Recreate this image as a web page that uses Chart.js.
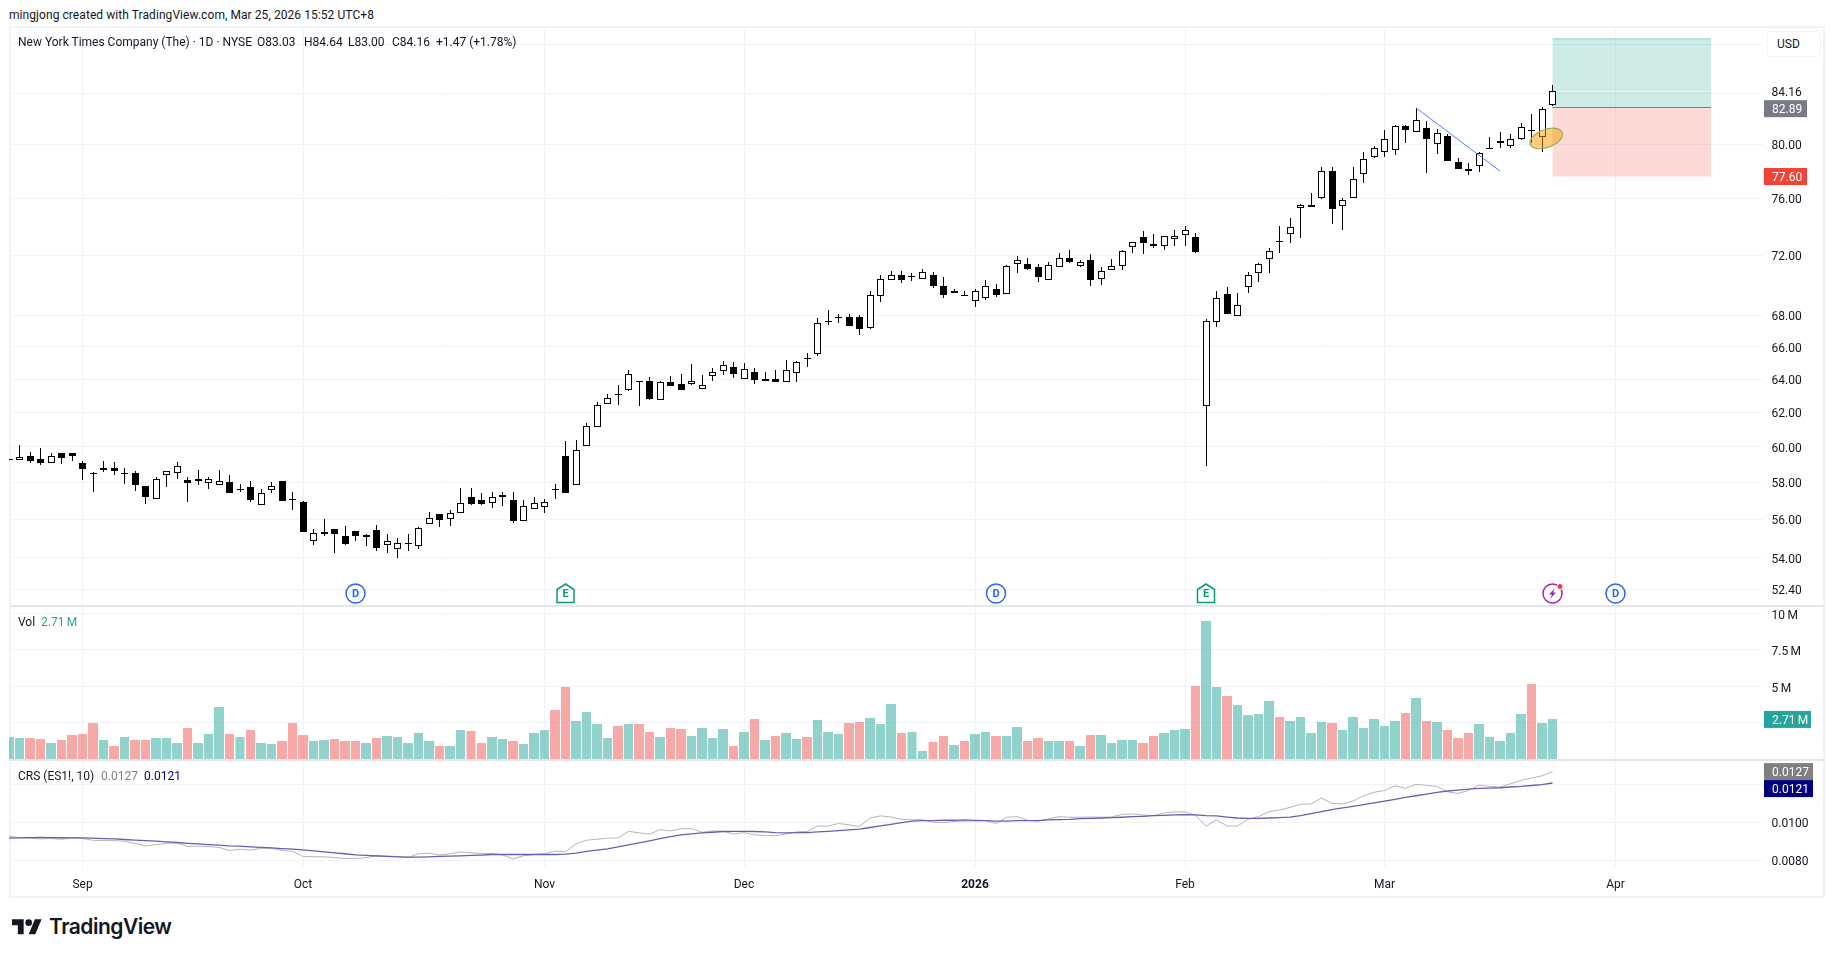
<!DOCTYPE html>
<html lang="en">
<head>
<meta charset="UTF-8" />
<title>NYT 1D</title>
<script src="https://cdn.jsdelivr.net/npm/chart.js"></script>
<style>
  html, body { margin: 0; background: #fff; }
  body { width: 1835px; height: 957px; position: relative; overflow: hidden; font-family: Roboto, sans-serif; font-size: 12px; color: #131722; }
  canvas { position: absolute; left: 9px; }
  .t { position: absolute; white-space: nowrap; line-height: 16px; }
  #frame { position: absolute; left: 9px; top: 26px; width: 1816px; height: 872px; box-sizing: border-box; border: 2px solid #f0f3fa; }
  .sep { position: absolute; left: 10px; width: 1814px; height: 2px; background: #e4e6ee; }
  #usd { position: absolute; left: 1767px; top: 31px; width: 54px; height: 26px; box-sizing: border-box; border: 1px solid #f0f3fa; border-radius: 4px; padding: 4px 0 0 9px; line-height: 16px; background: #fff; z-index: 3; }
  #logo { position: absolute; left: 12px; top: 916px; }
  #brand { position: absolute; left: 49px; top: 914px; font: 600 21px/26px Inter, sans-serif; letter-spacing: -0.5px; color: #131722; }
</style>
</head>
<body>
<div id="frame"></div>
<canvas id="priceChart" width="1816" height="579" style="top:27px"></canvas>
<canvas id="volChart" width="1816" height="153" style="top:606px"></canvas>
<canvas id="crsChart" width="1816" height="137" style="top:760px"></canvas>
<div class="sep" style="top:605px"></div>
<div class="sep" style="top:759px"></div>
<div id="usd">USD</div>

<div class="t" style="left:9px;top:7px;letter-spacing:0.07px">mingjong created with TradingView.com, Mar 25, 2026 15:52 UTC+8</div>
<div class="t" style="left:18px;top:34px">New York Times Company (The) · 1D · NYSE</div>
<div class="t" style="left:257px;top:34px">O83.03</div>
<div class="t" style="left:304px;top:34px">H84.64</div>
<div class="t" style="left:348px;top:34px">L83.00</div>
<div class="t" style="left:392px;top:34px">C84.16</div>
<div class="t" style="left:436px;top:34px">+1.47 (+1.78%)</div>
<div class="t" style="left:18px;top:614px">Vol</div>
<div class="t" style="left:41px;top:614px;color:#26a69a">2.71&thinsp;M</div>
<div class="t" style="left:18px;top:768px">CRS (ES1!, 10)</div>
<div class="t" style="left:101px;top:768px;color:#808080">0.0127</div>
<div class="t" style="left:144px;top:768px;color:#000080">0.0121</div>

<svg id="logo" width="30" height="23.3" viewBox="0 0 36 28" fill="#131722"><path d="M14 22H7V11H0V4h14v18zM28 22h-8l7.5-18h8L28 22z"/><circle cx="20" cy="8" r="4"/></svg>
<div id="brand">TradingView</div>

<script>
// session dates, the tail past the last bar is the empty space on the right of the chart
const tradingDays = [
  '2025-08-21','2025-08-22','2025-08-25','2025-08-26','2025-08-27','2025-08-28','2025-08-29',
  '2025-09-02','2025-09-03','2025-09-04','2025-09-05','2025-09-08','2025-09-09','2025-09-10','2025-09-11','2025-09-12',
  '2025-09-15','2025-09-16','2025-09-17','2025-09-18','2025-09-19','2025-09-22','2025-09-23','2025-09-24','2025-09-25','2025-09-26','2025-09-29','2025-09-30',
  '2025-10-01','2025-10-02','2025-10-03','2025-10-06','2025-10-07','2025-10-08','2025-10-09','2025-10-10','2025-10-13','2025-10-14','2025-10-15','2025-10-16','2025-10-17',
  '2025-10-20','2025-10-21','2025-10-22','2025-10-23','2025-10-24','2025-10-27','2025-10-28','2025-10-29','2025-10-30','2025-10-31',
  '2025-11-03','2025-11-04','2025-11-05','2025-11-06','2025-11-07','2025-11-10','2025-11-11','2025-11-12','2025-11-13','2025-11-14',
  '2025-11-17','2025-11-18','2025-11-19','2025-11-20','2025-11-21','2025-11-24','2025-11-25','2025-11-26','2025-11-28',
  '2025-12-01','2025-12-02','2025-12-03','2025-12-04','2025-12-05','2025-12-08','2025-12-09','2025-12-10','2025-12-11','2025-12-12',
  '2025-12-15','2025-12-16','2025-12-17','2025-12-18','2025-12-19','2025-12-22','2025-12-23','2025-12-24','2025-12-26','2025-12-29','2025-12-30','2025-12-31',
  '2026-01-02','2026-01-05','2026-01-06','2026-01-07','2026-01-08','2026-01-09','2026-01-12','2026-01-13','2026-01-14','2026-01-15','2026-01-16',
  '2026-01-20','2026-01-21','2026-01-22','2026-01-23','2026-01-26','2026-01-27','2026-01-28','2026-01-29','2026-01-30',
  '2026-02-02','2026-02-03','2026-02-04','2026-02-05','2026-02-06','2026-02-09','2026-02-10','2026-02-11','2026-02-12','2026-02-13',
  '2026-02-17','2026-02-18','2026-02-19','2026-02-20','2026-02-23','2026-02-24','2026-02-25','2026-02-26','2026-02-27',
  '2026-03-02','2026-03-03','2026-03-04','2026-03-05','2026-03-06','2026-03-09','2026-03-10','2026-03-11','2026-03-12','2026-03-13',
  '2026-03-16','2026-03-17','2026-03-18','2026-03-19','2026-03-20','2026-03-23','2026-03-24','2026-03-25','2026-03-26','2026-03-27','2026-03-30','2026-03-31',
  '2026-04-01','2026-04-02','2026-04-06','2026-04-07','2026-04-08','2026-04-09','2026-04-10','2026-04-13','2026-04-14','2026-04-15','2026-04-16','2026-04-17',
  '2026-04-20','2026-04-21','2026-04-22'
];
const monthTickDays = ['2025-09-02','2025-10-01','2025-11-03','2025-12-01','2026-01-02','2026-02-02','2026-03-02','2026-04-01'];
const monthTickLabels = ['Sep','Oct','Nov','Dec','2026','Feb','Mar','Apr'];

const opens = [59.25,59.28,59.5,59.33,59.11,59.67,59.63,59.06,58.54,58.7,58.83,58.5,58.5,57.78,57.12,58.44,58.5,58.13,58.06,57.95,57.87,58,57.62,57.73,56.79,57.6,58.11,57.12,56.92,54.84,55.25,55.47,55.12,55.37,55.05,55.42,54.63,54.44,54.72,54.58,55.74,56.27,56,
  56.33,57.19,57.03,56.87,57.19,57.03,55.89,56.54,56.65,57.62,59.46,57.84,60.06,61.12,62.47,63.12,63.35,63.86,63.88,62.76,63.82,63.71,63.71,63.41,64.17,64.5,64.75,64,64.44,63.88,64,63.82,64.38,65.31,65.56,67.59,67.87,67.87,67.87,
  67.2,69.23,70.35,70.63,70.54,70.42,70.63,69.95,69.49,69.3,68.91,69.1,69.75,69.36,71.38,71.38,71.18,70.29,71.18,71.79,71.29,71.66,70.42,70.97,71.25,72.55,73.24,72.76,72.62,73.1,73.37,73.24,62.35,67.55,69.36,67.94,69.88,70.77,
  71.73,72.96,73.44,75.28,75.35,76,77.97,75.43,76,77.82,79.02,79.4,79.55,81.38,80.92,81.23,80,80.62,78.64,78.19,78.39,79.62,80.13,79.92,80.38,81.1,80.54,83.03];
const highs = [59.3,60.12,59.72,59.94,59.67,59.67,59.67,59.19,58.59,59.22,59.17,58.78,58.61,57.82,58.33,58.61,59.17,58.28,58.72,58.28,58.72,58.44,57.89,58.11,57.62,58,58.11,57.46,56.97,55.47,56,55.47,55.65,55.39,55.21,55.68,55.21,55,55.21,55.58,56.38,56.27,56.49,
  57.69,57.69,57.42,57.48,57.48,57.48,57.03,57.19,57.08,57.89,60.35,60.41,61.35,62.59,63.12,63.65,64.56,63.9,64.12,63.88,64.19,64.31,64.94,64.25,64.69,65.13,65.06,65,64.69,64.44,64.56,65.19,65.13,65.63,67.81,68.33,68.07,68.07,68,
  69.58,70.69,70.92,70.92,70.77,71.04,70.83,70.49,69.75,69.62,69.75,70.35,70.08,71.31,71.93,71.79,71.38,71.52,72.14,72.34,71.66,72.07,71.18,71.73,72.34,72.89,73.65,73.44,73.3,73.78,74.06,73.51,67.74,69.56,69.88,69.49,70.83,71.45,
  72.48,74.01,74.57,75.57,76.37,78.27,78.34,76,78.27,79.4,79.92,81.08,81.49,81.49,82.79,81.77,81.15,80.77,78.95,78.57,79.4,80.54,80.92,80.77,81.69,82.32,82.87,84.64];
const lows = [59.25,59.28,59.09,58.98,59.11,59.04,59.19,58.13,57.47,58.59,58.43,57.93,57.54,56.85,57.12,57.77,58.2,56.93,57.87,57.64,57.87,57.44,57.5,56.96,56.79,57.44,57,56.52,55.35,54.67,55.14,54.25,54.67,54.86,54.61,54.35,54.25,53.98,54.35,54.46,55.74,55.61,55.66,
  56.33,56.79,56.79,56.63,56.74,55.82,55.89,56.54,56.36,57.1,57.44,57.84,60.06,61.12,62.47,62.45,63.29,62.39,62.71,62.76,63.57,63.33,63.63,63.41,63.86,64.23,64.04,64,63.69,63.88,63.8,63.82,63.8,64.73,65.44,67.4,67.48,67.33,66.75,
  67.14,68.89,70.35,70.13,70.26,70.42,69.79,69.15,69.49,69.23,68.56,69.02,69.21,69.36,70.81,71.02,70.2,70.29,71.18,71.45,71.22,69.92,69.99,70.97,71.02,72.18,72.05,72.53,72.39,72.66,72.6,72.14,58.93,67.27,68.11,67.94,69.49,70.2,
  70.81,72.18,72.87,73.21,75.35,75.93,74.18,73.76,76,77.14,78.95,79.07,79.22,80.13,80.92,77.87,79.3,78.77,78.17,77.73,77.94,79.62,79.75,79.77,80.31,80.08,79.4,83];
const closes = [59.3,59.43,59.2,59.09,59.5,59.37,59.48,58.76,58.52,58.83,58.65,58.52,57.87,57.23,58.22,58.61,58.89,57.98,58.17,58.17,58.06,57.44,57.64,57.06,57.44,57.82,57,57.08,55.35,55.3,55.32,55.25,54.72,55.14,55.16,54.51,54.84,54.77,54.74,55.53,56.05,55.95,56.33,
  56.87,56.85,56.85,57.19,57.3,55.93,56.7,56.87,56.92,57.6,57.44,59.83,61.18,62.41,62.88,63.1,64.31,63.84,62.82,63.82,63.57,63.33,63.88,63.63,64.42,64.86,64.31,64.63,63.92,63.98,63.8,64.56,65.04,65.29,67.53,67.61,67.89,67.33,67.14,
  69.3,70.42,70.63,70.33,70.56,70.83,69.92,69.34,69.62,69.25,69.62,69.95,69.34,71.25,71.66,71.09,70.54,71.31,71.79,71.54,71.52,70.29,70.9,71.25,72.27,72.89,72.82,72.6,73.3,73.3,73.72,72.21,67.61,69.1,68.11,68.65,70.69,71.38,
  72.32,72.94,73.99,75.5,75.5,77.97,75.26,75.86,77.39,78.87,79.77,80.38,81.38,81.13,81.92,80.44,80.85,78.77,78.17,78.02,79.32,79.77,80.23,80.38,81.31,81.05,82.71,84.16];

// volume in millions
const volumes = [1.53,1.46,1.46,1.39,1.12,1.32,1.67,1.74,2.49,1.32,0.91,1.53,1.32,1.32,1.46,1.46,1.12,2.15,1.12,1.74,3.58,1.74,1.53,2.01,1.12,1.05,1.26,2.49,1.67,1.26,1.32,1.39,1.26,1.26,1.12,1.46,1.6,1.53,1.12,1.8,1.26,0.91,0.91,
  2.01,1.94,1.12,1.53,1.39,1.26,1.05,1.8,2.01,3.38,4.95,2.63,3.24,2.42,1.46,2.28,2.42,2.42,1.87,1.53,2.15,2.08,1.6,2.15,1.46,2.08,0.91,1.87,2.76,1.32,1.6,1.8,1.39,1.53,2.69,1.87,1.74,2.49,2.56,
  2.83,2.42,3.79,1.8,1.87,0.57,1.19,1.6,0.98,1.26,1.74,1.87,1.6,1.6,2.21,1.26,1.46,1.26,1.26,1.26,0.91,1.67,1.67,1.12,1.32,1.32,1.12,1.6,1.8,2.01,2.08,5.02,9.47,4.95,4.34,3.72,3.04,3.11,
  4,2.9,2.63,2.9,1.8,2.56,2.49,2.01,2.9,2.15,2.76,2.28,2.63,3.17,4.2,2.63,2.56,2.01,1.46,1.8,2.42,1.53,1.26,1.8,3.11,5.16,2.49,2.71];

const crsValues = [0.0093,0.00923,0.0092,0.00916,0.00918,0.00914,0.00921,0.00918,0.00909,0.00907,0.00907,0.00904,0.00892,0.00879,0.00886,0.00893,0.00895,0.00876,0.00878,0.00876,0.00871,0.00855,0.00862,0.00857,0.00867,0.00867,0.00855,0.0085,0.00824,0.00822,0.00822,0.00818,0.00813,0.00813,0.00817,0.00829,0.00825,0.00824,0.00818,0.00838,0.00841,0.00831,0.00838,
  0.00848,0.00843,0.00839,0.00839,0.00832,0.00811,0.00827,0.00834,0.00838,0.00852,0.00848,0.0089,0.00909,0.00914,0.0092,0.00921,0.00956,0.00948,0.00941,0.00965,0.00958,0.00969,0.0097,0.00951,0.00958,0.00956,0.00942,0.00949,0.00937,0.00935,0.00932,0.00942,0.00953,0.00955,0.00984,0.00983,0.00997,0.0099,0.00981,
  0.01026,0.01037,0.01031,0.01019,0.01017,0.01017,0.01003,0.01002,0.01007,0.0101,0.0101,0.01012,0.00997,0.0103,0.01033,0.01014,0.0101,0.01021,0.01033,0.0103,0.0103,0.01031,0.0103,0.01031,0.01045,0.01047,0.01042,0.01038,0.01052,0.01058,0.01058,0.0104,0.00983,0.01016,0.00984,0.00984,0.01019,0.01033,
  0.01059,0.01068,0.01082,0.01098,0.011,0.01131,0.01103,0.011,0.01115,0.01143,0.01161,0.01171,0.01196,0.01182,0.01203,0.01197,0.01192,0.01164,0.01155,0.01171,0.01199,0.01192,0.01189,0.01206,0.01224,0.01236,0.01248,0.0127];
const crsAverage = [0.0092,0.00921,0.00923,0.00924,0.00923,0.00922,0.00921,0.00921,0.0092,0.00918,0.00916,0.00913,0.0091,0.00907,0.00904,0.009,0.00897,0.00893,0.0089,0.00886,0.00883,0.00879,0.00878,0.00874,0.00871,0.00869,0.00865,0.00862,0.00858,0.00853,0.00848,0.00843,0.00838,0.00832,0.00829,0.00826,0.00824,0.00822,0.0082,0.0082,0.00822,0.00824,0.00825,
  0.00827,0.00829,0.00831,0.00834,0.00834,0.00834,0.00834,0.00834,0.00834,0.00834,0.00836,0.00841,0.0085,0.00857,0.00864,0.00874,0.00885,0.00895,0.00906,0.00918,0.00928,0.00937,0.00942,0.00948,0.00951,0.00955,0.00956,0.00956,0.00955,0.00953,0.00949,0.00948,0.00949,0.00949,0.00953,0.00956,0.0096,0.00963,0.00967,
  0.00976,0.00984,0.00993,0.01002,0.01009,0.01012,0.01012,0.01014,0.01014,0.01016,0.01014,0.01012,0.0101,0.0101,0.01012,0.01012,0.01012,0.01016,0.01017,0.01019,0.01023,0.01024,0.01026,0.01028,0.0103,0.01033,0.01035,0.01038,0.0104,0.01042,0.01044,0.01042,0.01038,0.01037,0.01031,0.01026,0.01024,0.01024,
  0.01026,0.01028,0.01031,0.01038,0.01049,0.01059,0.0107,0.01079,0.01087,0.01096,0.01105,0.01115,0.01124,0.01135,0.01143,0.01152,0.01161,0.01168,0.01173,0.01178,0.01182,0.01183,0.01185,0.01189,0.01192,0.01197,0.01201,0.0121];

const priceTicks = [52.4,54,56,58,60,62,64,66,68,72,76,80,84,88];
const hiddenPriceTicks = [84,88];
const volumeTicks = [2.5,5,7.5,10];
const crsTicks = [0.008,0.01,0.012];

const lastPrice = 84.16;
const entryPrice = 82.89;
const stopPrice = 77.6;
const targetPrice = 88.5;
const positionFrom = 147;
const positionTo = 162.1;
const trendFrom = 134;
const trendTo = 142;
const trendFromPrice = 82.84;
const trendToPrice = 78.0;
const markerIndex = 146.4;
const markerPrice = 80.46;
const dividendBars = [33,94,153];
const earningsBars = [53,114];
const flashBars = [147];

const FONT = '12px Roboto, sans-serif';
const UP = 'rgba(38,166,154,0.5)';
const DOWN = 'rgba(239,83,80,0.5)';
const GRID = '#f0f3fa';
const AXIS_WIDTH = 62.5;

const monthTickValues = monthTickDays.map(d => tradingDays.indexOf(d));
const trendLine = tradingDays.map((d, i) => i === trendFrom ? trendFromPrice : i === trendTo ? trendToPrice : null);

// fixed width price axis so all three panes share the same plot width
function fitY(scale) {
  scale.width = AXIS_WIDTH;
  scale.paddingTop = 0;
  scale.paddingBottom = 0;
}

function xScale(height, showLabels) {
  return {
    type: 'category',
    offset: false,
    border: { display: false },
    grid: { color: GRID, offset: false, drawTicks: false },
    afterBuildTicks: s => { s.ticks = monthTickValues.map(v => ({ value: v })); },
    afterFit: s => { s.height = height; s.paddingLeft = 0; s.paddingRight = 0; },
    ticks: {
      display: showLabels,
      autoSkip: false,
      maxRotation: 0,
      padding: 10,
      color: '#131722',
      font: c => ({ family: 'Roboto, sans-serif', size: 12, weight: c.index === 4 ? 'bold' : 'normal' }),
      callback: (v, i) => monthTickLabels[i]
    }
  };
}

function yScale(extra, ticks, label, nudge) {
  return Object.assign({
    position: 'right',
    bounds: 'data',
    border: { display: false },
    grid: { color: GRID, drawTicks: false },
    afterBuildTicks: s => { s.ticks = ticks.map(v => ({ value: v })); },
    afterFit: fitY,
    ticks: { autoSkip: false, crossAlign: 'near', padding: 9, labelOffset: nudge, color: '#131722', font: { family: 'Roboto, sans-serif', size: 12 }, callback: label }
  }, extra);
}

// candles snap to whole pixels, the 10.5px step would blur them otherwise
const snapCandles = {
  id: 'snapCandles',
  afterDatasetsUpdate(chart) {
    chart.getSortedVisibleDatasetMetas().forEach(meta => {
      if (meta.type !== 'bar') return;
      meta.data.forEach(el => {
        el.x = Math.floor(el.x) + 0.5;
        el.y = Math.round(el.y);
        el.base = Math.round(el.base);
        if (el.y === el.base) el.base = el.y + 1;
      });
    });
  }
};

const snapVolume = {
  id: 'snapVolume',
  afterDatasetsUpdate(chart) {
    chart.getDatasetMeta(0).data.forEach(el => {
      const whole = Number.isInteger(el.x);
      el.width = whole ? 10 : 9;
      el.y = Math.round(el.y);
    });
  }
};

function tag(ctx, left, top, w, h, bg, text) {
  ctx.fillStyle = bg;
  ctx.fillRect(left, top, w, h);
  ctx.fillStyle = '#fff';
  ctx.font = FONT;
  ctx.textAlign = 'left';
  ctx.textBaseline = 'middle';
  ctx.fillText(text, left + 8, top + h / 2 + 1.5);
}

function drawBadges(chart) {
  const { ctx, chartArea, scales: { x } } = chart;
  const cy = chartArea.bottom - 12.5;
  ctx.save();
  ctx.textAlign = 'center';
  ctx.textBaseline = 'middle';
  dividendBars.forEach(i => {
    const cx = x.getPixelForValue(i);
    ctx.beginPath();
    ctx.arc(cx, cy, 9.5, 0, Math.PI * 2);
    ctx.fillStyle = '#fff';
    ctx.fill();
    ctx.lineWidth = 1.5;
    ctx.strokeStyle = '#2962ff';
    ctx.stroke();
    ctx.fillStyle = '#2962ff';
    ctx.font = 'bold 11px Roboto, sans-serif';
    ctx.fillText('D', cx, cy + 0.5);
  });
  earningsBars.forEach(i => {
    const cx = x.getPixelForValue(i);
    ctx.beginPath();
    ctx.moveTo(cx, cy - 9.5);
    ctx.lineTo(cx + 8.5, cy - 4);
    ctx.lineTo(cx + 8.5, cy + 9);
    ctx.lineTo(cx - 8.5, cy + 9);
    ctx.lineTo(cx - 8.5, cy - 4);
    ctx.closePath();
    ctx.fillStyle = '#fff';
    ctx.fill();
    ctx.lineWidth = 1.5;
    ctx.strokeStyle = '#089981';
    ctx.stroke();
    ctx.fillStyle = '#089981';
    ctx.font = 'bold 11px Roboto, sans-serif';
    ctx.fillText('E', cx, cy + 1);
  });
  flashBars.forEach(i => {
    const cx = x.getPixelForValue(i);
    ctx.beginPath();
    ctx.arc(cx, cy, 9.5, 0, Math.PI * 2);
    ctx.fillStyle = '#fff';
    ctx.fill();
    ctx.lineWidth = 1.5;
    ctx.strokeStyle = '#9c27b0';
    ctx.stroke();
    ctx.beginPath();
    ctx.moveTo(cx + 2.5, cy - 5.5);
    ctx.lineTo(cx - 3.5, cy + 1);
    ctx.lineTo(cx - 0.5, cy + 1);
    ctx.lineTo(cx - 2.5, cy + 5.5);
    ctx.lineTo(cx + 3.5, cy - 1);
    ctx.lineTo(cx + 0.5, cy - 1);
    ctx.closePath();
    ctx.fillStyle = '#9c27b0';
    ctx.fill();
    ctx.beginPath();
    ctx.arc(cx + 7.5, cy - 7, 3, 0, Math.PI * 2);
    ctx.fillStyle = '#f23645';
    ctx.fill();
    ctx.lineWidth = 1;
    ctx.strokeStyle = '#fff';
    ctx.stroke();
  });
  ctx.restore();
}

// long position box under the candles
const positionBox = {
  id: 'positionBox',
  beforeDatasetsDraw(chart) {
    const { ctx, scales: { x, y } } = chart;
    const l = x.getPixelForValue(positionFrom);
    const r = x.getPixelForValue(positionTo);
    const top = y.getPixelForValue(targetPrice);
    const mid = y.getPixelForValue(entryPrice);
    const bot = y.getPixelForValue(stopPrice);
    ctx.save();
    ctx.fillStyle = 'rgba(8,153,129,0.2)';
    ctx.fillRect(l, top, r - l, mid - top);
    ctx.fillStyle = 'rgba(244,67,54,0.2)';
    ctx.fillRect(l, mid, r - l, bot - mid);
    ctx.strokeStyle = 'rgba(8,153,129,0.3)';
    ctx.beginPath(); ctx.moveTo(l, top + 0.5); ctx.lineTo(r, top + 0.5); ctx.stroke();
    ctx.strokeStyle = '#787b86';
    ctx.beginPath(); ctx.moveTo(l, Math.round(mid) + 0.5); ctx.lineTo(r, Math.round(mid) + 0.5); ctx.stroke();
    // last price dots run across the box
    ctx.strokeStyle = '#fff';
    ctx.setLineDash([1, 2]);
    const ly = Math.round(y.getPixelForValue(lastPrice)) + 0.5;
    ctx.beginPath(); ctx.moveTo(l, ly); ctx.lineTo(r, ly); ctx.stroke();
    ctx.restore();
  },
  afterDatasetsDraw(chart) {
    const { ctx, chartArea, scales: { x, y } } = chart;
    ctx.save();
    ctx.beginPath();
    ctx.ellipse(x.getPixelForValue(markerIndex), y.getPixelForValue(markerPrice), 17, 9, -20 * Math.PI / 180, 0, Math.PI * 2);
    ctx.fillStyle = 'rgba(255,152,0,0.5)';
    ctx.fill();
    ctx.lineWidth = 1.2;
    ctx.strokeStyle = '#8fb35a';
    ctx.stroke();
    ctx.restore();
    drawBadges(chart);
    const left = chartArea.right + 1.5;
    ctx.save();
    ctx.fillStyle = '#131722';
    ctx.font = FONT;
    ctx.textAlign = 'left';
    ctx.textBaseline = 'middle';
    ctx.fillText(lastPrice.toFixed(2), chartArea.right + 9, y.getPixelForValue(lastPrice) + 2);
    const entryY = y.getPixelForValue(entryPrice);
    tag(ctx, left, entryY - 7, 43, 17, '#787b86', entryPrice.toFixed(2));
    const stopY = y.getPixelForValue(stopPrice);
    tag(ctx, left, stopY - 8.5, 43, 17, '#f44336', stopPrice.toFixed(2));
    ctx.restore();
  }
};

const volumeTag = {
  id: 'volumeTag',
  afterDatasetsDraw(chart) {
    const { ctx, chartArea, scales: { y } } = chart;
    const last = volumes[volumes.length - 1];
    ctx.save();
    tag(ctx, chartArea.right + 1.5, y.getPixelForValue(last) - 8.5, 47, 17, '#26a69a', last.toFixed(2) + '\u2009M');
    ctx.restore();
  }
};

const crsTags = {
  id: 'crsTags',
  afterDatasetsDraw(chart) {
    const { ctx, chartArea, scales: { y } } = chart;
    const a = crsValues[crsValues.length - 1];
    const b = crsAverage[crsAverage.length - 1];
    const top = y.getPixelForValue(a) - 8.5;
    ctx.save();
    tag(ctx, chartArea.right + 1.5, top, 49, 17, '#808080', a.toFixed(4));
    tag(ctx, chartArea.right + 1.5, top + 17, 49, 17, '#000080', b.toFixed(4));
    ctx.restore();
  }
};

const baseOptions = {
  responsive: false,
  animation: false,
  events: [],
  layout: { padding: 0 },
  plugins: { legend: { display: false }, tooltip: { enabled: false } }
};

new Chart(document.getElementById('priceChart'), {
  type: 'bar',
  data: {
    labels: tradingDays,
    datasets: [
      { type: 'line', data: trendLine, spanGaps: true, borderColor: '#4f7fff', borderWidth: 1, pointRadius: 0 },
      {
        data: opens.map((o, i) => [o, closes[i]]),
        grouped: false,
        barThickness: 7,
        inflateAmount: 0,
        borderWidth: 1,
        borderSkipped: false,
        borderColor: '#000',
        backgroundColor: opens.map((o, i) => closes[i] >= o ? '#fff' : '#000')
      },
      {
        data: lows.map((l, i) => [l, highs[i]]),
        grouped: false,
        barThickness: 1,
        inflateAmount: 0,
        backgroundColor: '#000'
      }
    ]
  },
  options: Object.assign({}, baseOptions, {
    scales: {
      x: xScale(0, false),
      y: yScale({ type: 'logarithmic', min: 51.57, max: 89.46 }, priceTicks,
        v => hiddenPriceTicks.includes(v) ? '' : v.toFixed(2), 2)
    }
  }),
  plugins: [snapCandles, positionBox]
});

new Chart(document.getElementById('volChart'), {
  type: 'bar',
  data: {
    labels: tradingDays,
    datasets: [{
      data: volumes,
      barThickness: 10,
      inflateAmount: 0,
      backgroundColor: volumes.map((v, i) => closes[i] >= opens[i] ? UP : DOWN)
    }]
  },
  options: Object.assign({}, baseOptions, {
    scales: {
      x: xScale(0, false),
      y: yScale({ type: 'linear', min: 0, max: 10.48 }, volumeTicks,
        v => v === 2.5 ? '' : v + '\u2009M', 2.5)
    }
  }),
  plugins: [snapVolume, volumeTag]
});

new Chart(document.getElementById('crsChart'), {
  type: 'line',
  data: {
    labels: tradingDays,
    datasets: [
      { data: crsAverage, borderColor: '#6460b4', borderWidth: 1.3, pointRadius: 0 },
      { data: crsValues, borderColor: '#b5b5b5', borderWidth: 1, pointRadius: 0 }
    ]
  },
  options: Object.assign({}, baseOptions, {
    scales: {
      x: xScale(29, true),
      y: yScale({ type: 'linear', min: 0.00763, max: 0.01331 }, crsTicks,
        v => v === 0.012 ? '' : v.toFixed(4), 1.5)
    }
  }),
  plugins: [crsTags]
});
</script>
</body>
</html>
